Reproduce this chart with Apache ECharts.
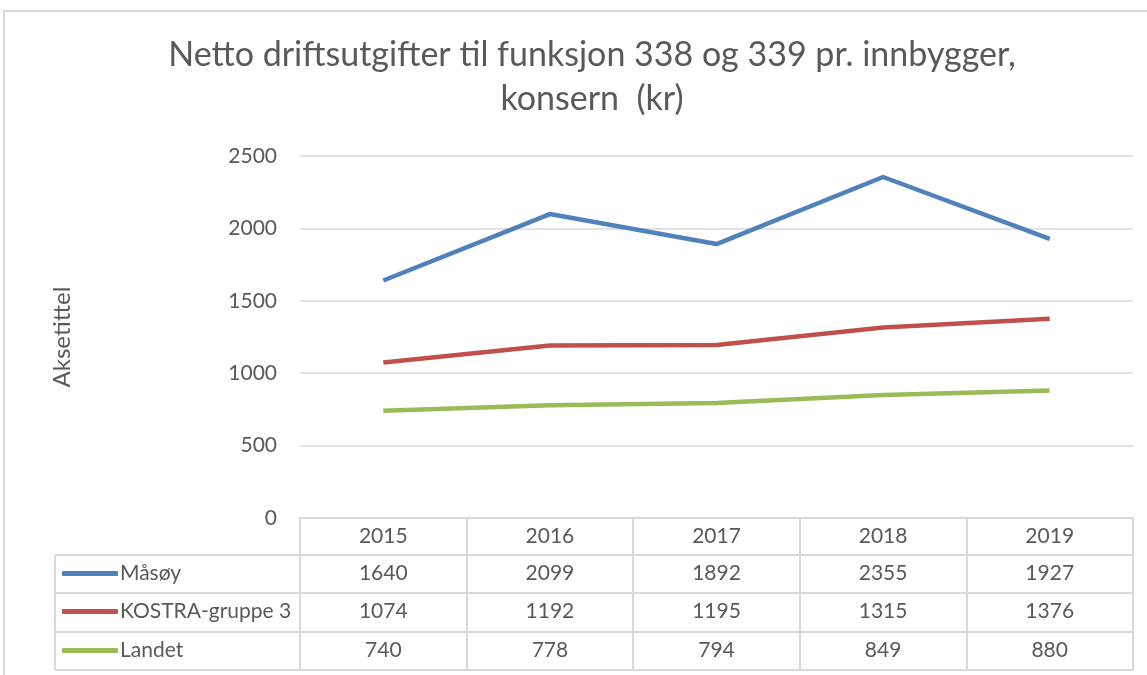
<!DOCTYPE html>
<html>
<head>
<meta charset="utf-8">
<script src="https://cdn.jsdelivr.net/npm/echarts@6/dist/echarts.min.js"></script>
<style>
  html, body { margin: 0; padding: 0; background: #fff; }
  #chart { width: 1147px; height: 675px; }
</style>
</head>
<body>
<div id="chart"></div>
<script>
(function () {
  const years = ['2015', '2016', '2017', '2018', '2019'];
  const masoy = [1640, 2099, 1892, 2355, 1927];
  const kostra = [1074, 1192, 1195, 1315, 1376];
  const landet = [740, 778, 794, 849, 880];
  const seriesNames = ['Måsøy', 'KOSTRA-gruppe 3', 'Landet'];
  const seriesData = [masoy, kostra, landet];
  const colors = ['#4f81bd', '#c0504d', '#9bbb59'];

  const font = 'Lato, "Liberation Sans", sans-serif';
  const textColor = '#595959';
  const lineColor = '#d9d9d9';
  const fs = 21;

  // table row tops (grid bottom is 518)
  const rowOffsets = [0, 37, 75, 114];
  const rowHeight = 38;
  const gridLeft = 300;
  const tableLeft = 55;

  const el = document.getElementById('chart');
  const chart = echarts.init(el);

  const xAxes = [];
  // header row: years
  xAxes.push({
    type: 'category',
    data: years,
    position: 'bottom',
    offset: 0,
    boundaryGap: true,
    axisLine: { lineStyle: { color: lineColor, width: 2 } },
    axisTick: { show: true, interval: 0, length: rowHeight, lineStyle: { color: lineColor, width: 2 } },
    axisLabel: { color: textColor, fontSize: fs, fontFamily: font, margin: 8, interval: 0 }
  });
  seriesData.forEach((vals, i) => {
    xAxes.push({
      type: 'category',
      data: years,
      position: 'bottom',
      offset: rowOffsets[i + 1],
      boundaryGap: true,
      axisLine: { lineStyle: { color: lineColor, width: 2 } },
      axisTick: { show: true, interval: 0, length: rowHeight, lineStyle: { color: lineColor, width: 2 } },
      axisLabel: {
        color: textColor, fontSize: fs, fontFamily: font, margin: 8, interval: 0,
        formatter: (v, idx) => String(vals[idx])
      }
    });
  });
  // bottom border of table
  xAxes.push({
    type: 'category',
    data: years,
    position: 'bottom',
    offset: rowOffsets[3] + rowHeight,
    boundaryGap: true,
    axisLine: { lineStyle: { color: lineColor, width: 2 } },
    axisTick: { show: false },
    axisLabel: { show: false }
  });

  const legends = seriesNames.map((name, i) => ({
    data: [name],
    left: 62,
    top: 518 + rowOffsets[i + 1] + 8,
    icon: 'roundRect',
    itemWidth: 56,
    itemHeight: 5,
    selectedMode: false,
    padding: 0,
    textStyle: { color: textColor, fontSize: fs, fontFamily: font, padding: [0, 0, 0, -3] }
  }));

  const graphics = [
    // chart frame
    { type: 'polyline', shape: { points: [[4, 700], [4, 11], [1160, 11]] }, style: { stroke: lineColor, lineWidth: 2, fill: null } },
    // left column border
    { type: 'line', shape: { x1: tableLeft, y1: 518 + rowOffsets[1], x2: tableLeft, y2: 518 + rowOffsets[3] + rowHeight }, style: { stroke: lineColor, lineWidth: 2 } }
  ];
  [1, 2, 3].forEach((r) => {
    const y = 518 + rowOffsets[r];
    graphics.push({ type: 'line', shape: { x1: tableLeft, y1: y, x2: gridLeft, y2: y }, style: { stroke: lineColor, lineWidth: 2 } });
  });
  graphics.push({ type: 'line', shape: { x1: tableLeft, y1: 518 + rowOffsets[3] + rowHeight, x2: gridLeft, y2: 518 + rowOffsets[3] + rowHeight }, style: { stroke: lineColor, lineWidth: 2 } });

  chart.setOption({
    animation: false,
    color: colors,
    title: {
      text: 'Netto driftsutgifter til funksjon 338 og 339 pr. innbygger,\nkonsern  (kr)',
      left: 587,
      top: 28,
      textAlign: 'center',
      textStyle: { color: textColor, fontSize: 34, fontWeight: 'normal', fontFamily: font, lineHeight: 44 }
    },
    legend: legends,
    grid: { left: gridLeft, right: 14, top: 156, bottom: 157 },
    xAxis: xAxes,
    yAxis: {
      type: 'value',
      min: 0,
      max: 2500,
      interval: 500,
      name: 'Aksetittel',
      nameLocation: 'middle',
      nameGap: 226,
      nameTextStyle: { color: textColor, fontSize: 24, fontFamily: font },
      axisLine: { show: false },
      axisTick: { show: false },
      axisLabel: { color: textColor, fontSize: fs, fontFamily: font, margin: 23, formatter: (v) => String(v) },
      splitLine: { lineStyle: { color: lineColor, width: 1.5 } }
    },
    series: seriesData.map((vals, i) => ({
      name: seriesNames[i],
      type: 'line',
      data: vals,
      symbol: 'none',
      lineStyle: { width: 4.5, color: colors[i] },
      itemStyle: { color: colors[i] }
    })),
    graphic: graphics
  });

  window.addEventListener('resize', () => chart.resize());
})();
</script>
</body>
</html>
